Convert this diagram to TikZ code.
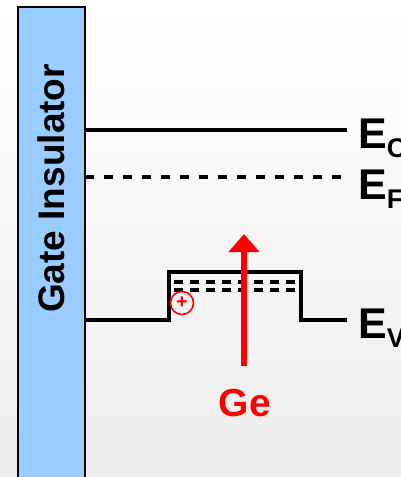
\documentclass[tikz,border=0pt]{standalone}
\usepackage{fontspec}
\setmainfont{Liberation Sans}
\usetikzlibrary{arrows.meta}
\definecolor{insblue}{HTML}{99CCFF}
\definecolor{bggray}{HTML}{EDEDED}
\begin{document}
\begin{tikzpicture}[x=1pt,y=-1pt,
  band/.style={line width=3.4pt},
  fermi/.style={line width=3.2pt, dash pattern=on 9pt off 10pt},
  welldash/.style={line width=3.2pt, dash pattern=on 9pt off 7pt},
  elabel/.style={anchor=base west, inner sep=0pt, font=\bfseries},
]
\useasboundingbox (0,0) rectangle (401,477);
\shade[top color=white, bottom color=bggray] (0,0) rectangle (401,477);
% insulator
\node[draw=black, line width=2.2pt, fill=insblue, minimum width=67pt, minimum height=490pt, anchor=north west, inner sep=0pt] (ins) at (17,6) {};
\node[rotate=90, anchor=base west, inner sep=0pt, font=\bfseries\fontsize{37}{37}\selectfont] (instext) at (64,313) {Gate Insulator};
% labels
\node[elabel] (EC) at (358,148) {\fontsize{43}{43}\selectfont E\raisebox{-9pt}{\fontsize{27}{27}\selectfont C}};
\node[elabel] (EF) at (358,199) {\fontsize{43}{43}\selectfont E\raisebox{-9pt}{\fontsize{27}{27}\selectfont F}};
\node[elabel] (EV) at (358,338) {\fontsize{43}{43}\selectfont E\raisebox{-9pt}{\fontsize{27}{27}\selectfont V}};
% coordinates
\coordinate (c0) at (84,130); \coordinate (c1) at (347,130);
\coordinate (f0) at (85,177); \coordinate (f1) at (347,177);
\coordinate (v0) at (84,320); \coordinate (v1) at (169,320);
\coordinate (v2) at (169,272); \coordinate (v3) at (301,272);
\coordinate (v4) at (301,320); \coordinate (v5) at (347,320);
\coordinate (w0) at (174,282); \coordinate (w1) at (300,282);
\coordinate (u0) at (174,290); \coordinate (u1) at (300,290);
\draw[band] (c0) -- (c1);
\draw[fermi] (f0) -- (f1);
\draw[band, line join=miter] (v0) -- (v1) -- (v2) -- (v3) -- (v4) -- (v5);
\draw[welldash] (w0) -- (w1);
\draw[welldash] (u0) -- (u1);
% hole
\node[circle, draw=red, line width=1.6pt, minimum size=23pt, inner sep=0pt, text=red, font=\bfseries\fontsize{20}{20}\selectfont] (hole) at (182,303) {+};
% Ge arrow
\coordinate (a0) at (244,366); \coordinate (a1) at (244,234);
\draw[red, line width=6pt, -{Triangle[length=18pt,width=30pt]}] (a0) -- (a1);
\node[text=red, anchor=base, inner sep=0pt, font=\bfseries\fontsize{39}{39}\selectfont] (ge) at (245,416) {Ge};
\end{tikzpicture}
\end{document}
